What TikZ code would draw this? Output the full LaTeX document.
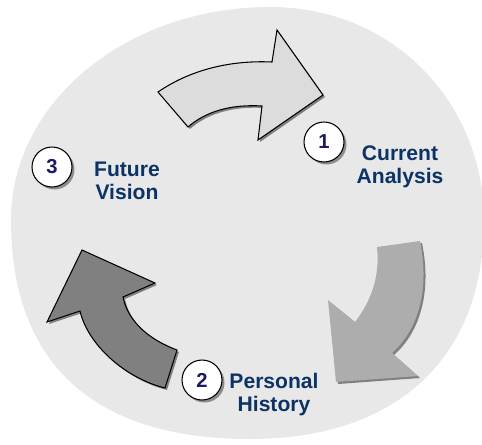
\documentclass[tikz,border=0pt]{standalone}
\usepackage{fontspec}
\newfontfamily\cyclefont{Liberation Sans}
\usetikzlibrary{shadows}
\definecolor{CycleBack}{HTML}{E8E8E8}
\definecolor{CycleLight}{HTML}{DCDCDC}
\definecolor{CycleMid}{HTML}{ADADAD}
\definecolor{CycleDark}{HTML}{808080}
\definecolor{CycleNavy}{HTML}{0B3366}
\definecolor{CycleInk}{HTML}{1A1A66}

\begin{document}
\begin{tikzpicture}[x=0.02cm,y=-0.02cm, every node/.style={font=\cyclefont\bfseries}]
    \tikzset{num/.style={circle,draw=black,line width=0.6pt,fill=white,minimum size=0.8cm,inner sep=0pt,
      text=CycleInk,font=\cyclefont\bfseries\fontsize{11.5}{13}\selectfont,
      drop shadow={shadow xshift=0.05cm,shadow yshift=-0.05cm,fill=black!60,opacity=0.7}},
      lbl/.style={align=center,text=CycleNavy,font=\cyclefont\bfseries\fontsize{12}{13.3}\selectfont},
      arr/.style={line width=0.6pt,line join=miter,
      drop shadow={shadow xshift=0.04cm,shadow yshift=-0.04cm,fill=black!60,opacity=0.8}}}
    \useasboundingbox (0,0) rectangle (482,444);
    % grey disc behind the cycle
    \fill[CycleBack] (270,7) .. controls (395,7) and (484,105) .. (484,220)
      .. controls (484,360) and (395,439) .. (250,439)
      .. controls (95,439) and (11,365) .. (11,220)
      .. controls (11,102) and (127,7) .. (270,7) -- cycle;
    % the three bent arrows
    \filldraw[arr,fill=CycleLight] (158,92) .. controls (190,70) and (230,60) .. (272,62) -- (277,30) -- (323,95)
      -- (258,140) -- (262,106) .. controls (230,104) and (205,112) .. (188,127) -- cycle;
    \fill[arr,fill=CycleMid] (420,241) .. controls (430,290) and (418,330) .. (392,353) -- (418,376) -- (336,382)
      -- (328,300) -- (355,322) .. controls (372,300) and (380,275) .. (377,247) -- cycle;
    \filldraw[arr,fill=CycleDark] (177,350) .. controls (150,340) and (128,322) .. (123,297) -- (155,283) -- (82,250)
      -- (47,322) -- (80,311) .. controls (88,345) and (125,378) .. (165,388) -- cycle;
    % numbered steps
    \node[num] (c1) at (324,142) {1};
    \node[num] (c2) at (202,380) {2};
    \node[num] (c3) at (52,167) {3};
    \node[lbl] (l1) at (400,167) {Current\\Analysis};
    \node[lbl] (l2) at (274,394.5) {Personal\\History};
    \node[lbl] (l3) at (127,181) {Future\\Vision};
\end{tikzpicture}
\end{document}
